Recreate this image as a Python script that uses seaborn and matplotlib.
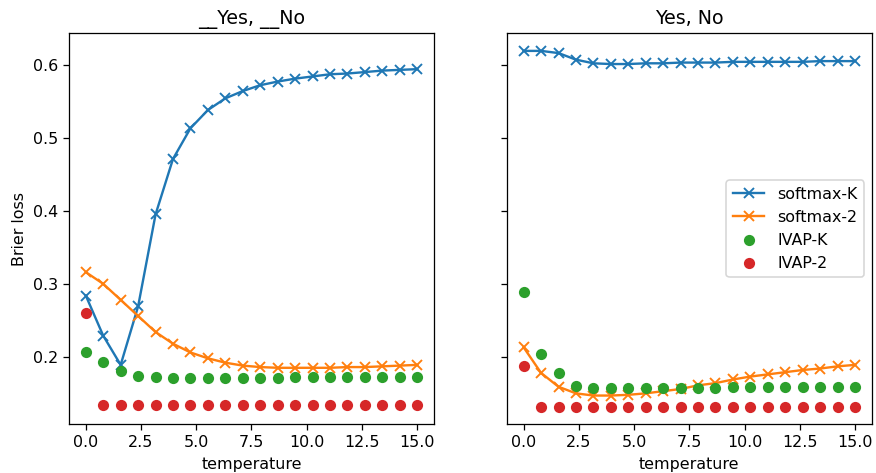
import numpy as np
import pandas as pd
import matplotlib
matplotlib.use("Agg")
import matplotlib.pyplot as plt
import seaborn as sns

plt.rcdefaults()

# temperature grid
temperature = [0.0, 0.789, 1.579, 2.368, 3.158, 3.947, 4.737, 5.526, 6.316, 7.105,
               7.895, 8.684, 9.474, 10.263, 11.053, 11.842, 12.632, 13.421, 14.211, 15.0]

# left panel: "__Yes, __No"
left_softmax_k = [0.284, 0.229, 0.189, 0.269, 0.395, 0.471, 0.513, 0.538, 0.554, 0.564,
                  0.572, 0.577, 0.581, 0.584, 0.587, 0.588, 0.590, 0.592, 0.593, 0.594]
left_softmax_2 = [0.316, 0.300, 0.278, 0.256, 0.234, 0.218, 0.206, 0.198, 0.192, 0.188,
                  0.186, 0.185, 0.185, 0.185, 0.185, 0.186, 0.186, 0.187, 0.188, 0.189]
left_ivap_k = [0.206, 0.193, 0.181, 0.174, 0.172, 0.171, 0.171, 0.171, 0.171, 0.171,
               0.171, 0.171, 0.172, 0.172, 0.172, 0.172, 0.172, 0.172, 0.172, 0.172]
left_ivap_2 = [0.260, 0.134, 0.134, 0.134, 0.134, 0.134, 0.134, 0.134, 0.134, 0.134,
               0.134, 0.134, 0.134, 0.134, 0.134, 0.134, 0.134, 0.134, 0.134, 0.134]

# right panel: "Yes, No"
right_softmax_k = [0.619, 0.619, 0.616, 0.607, 0.602, 0.601, 0.601, 0.602, 0.602, 0.603,
                   0.603, 0.603, 0.604, 0.604, 0.604, 0.604, 0.604, 0.605, 0.605, 0.605]
right_softmax_2 = [0.213, 0.178, 0.159, 0.150, 0.147, 0.147, 0.148, 0.150, 0.153, 0.156,
                   0.161, 0.164, 0.169, 0.173, 0.176, 0.179, 0.182, 0.184, 0.187, 0.189]
right_ivap_k = [0.289, 0.204, 0.178, 0.160, 0.157, 0.157, 0.157, 0.157, 0.157, 0.158,
                0.158, 0.158, 0.159, 0.159, 0.159, 0.159, 0.159, 0.159, 0.159, 0.159]
right_ivap_2 = [0.188, 0.132, 0.132, 0.132, 0.132, 0.132, 0.132, 0.132, 0.132, 0.132,
                0.132, 0.132, 0.132, 0.132, 0.132, 0.132, 0.132, 0.132, 0.132, 0.132]

titles = ["__Yes, __No", "Yes, No"]
panels = [
    (left_softmax_k, left_softmax_2, left_ivap_k, left_ivap_2),
    (right_softmax_k, right_softmax_2, right_ivap_k, right_ivap_2),
]

pal = sns.color_palette("tab10")

DPI = 114
fig, axes = plt.subplots(1, 2, figsize=(876 / DPI, 473 / DPI), dpi=DPI, sharey=True)
fig.subplots_adjust(left=0.079, right=0.995, top=0.93, bottom=0.103, wspace=0.201)

for ax, title, (smk, sm2, ivk, iv2) in zip(axes, titles, panels):
    # softmax curves with x markers
    sns.lineplot(x=temperature, y=smk, ax=ax, color=pal[0], marker="x", markersize=6.5,
                 mec=pal[0], mew=1.2, linewidth=1.5, label="softmax-K")
    sns.lineplot(x=temperature, y=sm2, ax=ax, color=pal[1], marker="x", markersize=6.5,
                 mec=pal[1], mew=1.2, linewidth=1.5, label="softmax-2")
    # IVAP points
    sns.scatterplot(x=temperature, y=ivk, ax=ax, color=pal[2], s=50, linewidth=0,
                    label="IVAP-K", zorder=3)
    sns.scatterplot(x=temperature, y=iv2, ax=ax, color=pal[3], s=50, linewidth=0,
                    label="IVAP-2", zorder=3)
    ax.set_title(title, fontsize=12)
    ax.set_xlabel("temperature")
    ax.set_xticks([0, 2.5, 5, 7.5, 10, 12.5, 15])

axes[0].set_ylabel("Brier loss")
axes[0].get_legend().remove()
axes[1].legend(loc="center right")

plt.savefig("out.png", dpi=DPI)
plt.close(fig)
